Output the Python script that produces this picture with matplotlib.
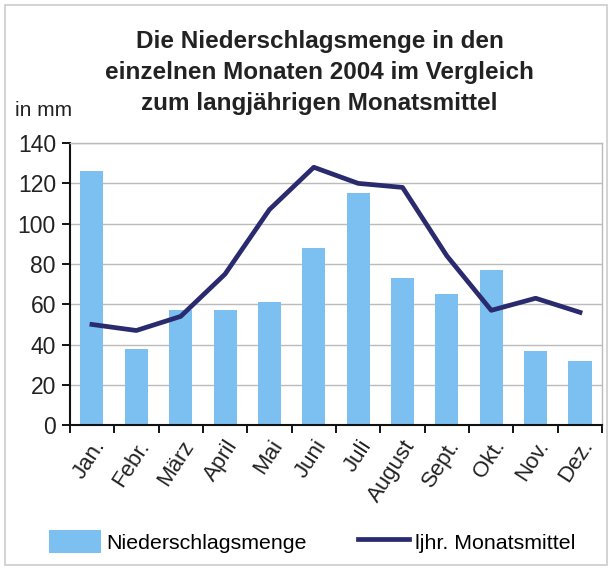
import matplotlib
matplotlib.use("Agg")
import matplotlib.pyplot as plt
import numpy as np
from matplotlib.patches import Rectangle

plt.rcParams['font.family'] = ['Liberation Sans', 'DejaVu Sans']

months = ["Jan.", "Febr.", "März", "April", "Mai", "Juni", "Juli", "August",
          "Sept.", "Okt.", "Nov.", "Dez."]
niederschlag = [126, 38, 57, 57, 61, 88, 115, 73, 65, 77, 37, 32]
monatsmittel = [50, 47, 54, 75, 107, 128, 120, 118, 84, 57, 63, 56]
yticks = [0, 20, 40, 60, 80, 100, 120, 140]

bar_color = "#7CC0F2"
line_color = "#2A2A6E"

fig = plt.figure(figsize=(6.12, 5.70), dpi=100)
fig.patches.append(Rectangle((0.008, 0.008), 0.984, 0.984, transform=fig.transFigure,
                             fill=False, edgecolor="#cccccc", linewidth=1.2))

ax = fig.add_axes([0.114, 0.254, 0.870, 0.495])
x = np.arange(len(months))
b = ax.bar(x, niederschlag, width=0.52, color=bar_color, zorder=2)
l, = ax.plot(x, monatsmittel, color=line_color, linewidth=3.4, zorder=3)

ax.set_xlim(-0.5, len(months) - 0.5)
ax.set_ylim(0, 140)
ax.set_yticks(yticks)
ax.set_yticklabels([str(v) for v in yticks], fontsize=16.5, color="#222222")
ax.set_xticks(np.arange(len(months) + 1) - 0.5, minor=False)
ax.set_xticklabels([""] * (len(months) + 1))
ax.set_xticks(x, minor=True)
ax.set_xticklabels(months, minor=True, rotation=57, ha="right", va="top",
                   rotation_mode="anchor", fontsize=16, color="#222222")
ax.tick_params(axis="x", which="minor", length=0, pad=8)
ax.tick_params(axis="x", which="major", length=6, width=1.3, direction="out")
ax.tick_params(axis="y", length=6, width=1.3, direction="out", pad=4)

ax.yaxis.grid(True, color="#bbbbbb", linewidth=1.0, zorder=0)
ax.set_axisbelow(True)
for s in ["top", "right"]:
    ax.spines[s].set_color("#bbbbbb")
    ax.spines[s].set_linewidth(1.0)
for s in ["left", "bottom"]:
    ax.spines[s].set_color("#111111")
    ax.spines[s].set_linewidth(1.5)

fig.text(0.522, 0.948, "Die Niederschlagsmenge in den\neinzelnen Monaten 2004 im Vergleich\nzum langjährigen Monatsmittel",
         ha="center", va="top", fontsize=17.5, fontweight="bold", color="#222222",
         linespacing=1.45)
fig.text(0.025, 0.807, "in mm", ha="left", va="center", fontsize=15, color="#222222")

fig.legend([b, l], ["Niederschlagsmenge", "ljhr. Monatsmittel"], loc="center",
           bbox_to_anchor=(0.51, 0.05), ncol=2,
           frameon=False, fontsize=15.4, handlelength=2.4, handleheight=1.3,
           handletextpad=0.25, columnspacing=2.4)

fig.savefig("out.png", dpi=100)
